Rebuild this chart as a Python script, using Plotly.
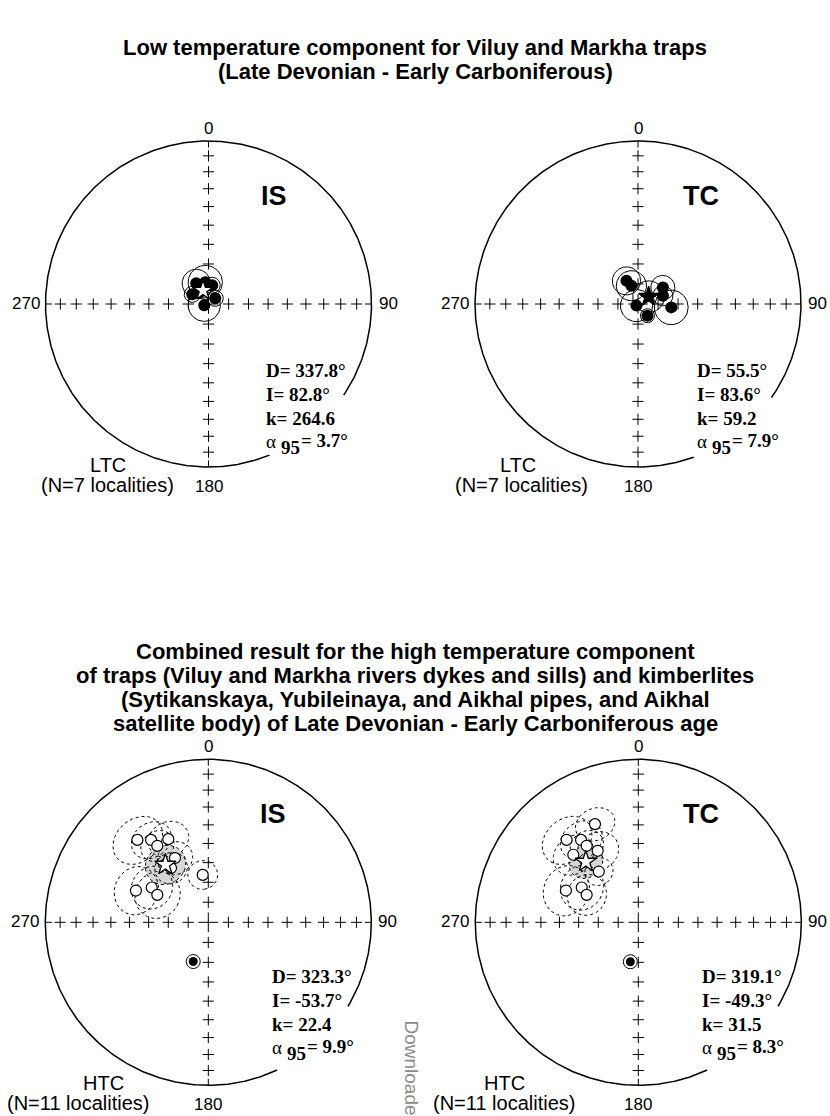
import numpy as np
import plotly.graph_objects as go

W, H = 830, 1116

# ---- Site-mean directions: declination, inclination, alpha95 (degrees) ----
ltc_is_dec = [329.3, 351.4, 11.2, 300.8, 49.6, 253.0, 321.5]
ltc_is_inc = [78.0, 79.1, 80.5, 80.6, 85.6, 87.8, 82.5]
ltc_is_a95 = [7.0, 8.5, 4.0, 4.0, 4.0, 8.0, 3.0]

ltc_tc_dec = [333.5, 340.2, 56.4, 71.6, 223.0, 95.8, 141.2]
ltc_tc_inc = [77.1, 80.3, 75.1, 76.9, 88.9, 73.3, 82.5]
ltc_tc_a95 = [7.0, 7.5, 6.0, 5.0, 8.0, 8.5, 3.5]

htc_is_dec = [319.3, 325.2, 334.3, 326.3, 332.6, 325.5, 353.3, 293.7, 301.6, 298.3, 201.0]
htc_is_inc = [-33.7, -38.4, -42.8, -43.0, -53.4, -56.8, -66.1, -49.9, -56.5, -60.9, 69.0]
htc_is_a95 = [12.0, 9.5, 9.5, 8.0, 8.5, 8.0, 7.3, 11.5, 10.5, 11.5, 3.0]

htc_tc_dec = [336.2, 319.0, 325.2, 326.0, 330.4, 316.1, 322.1, 293.7, 301.6, 298.0, 191.4]
htc_tc_inc = [-34.5, -33.4, -38.4, -42.8, -48.2, -42.0, -57.6, -49.9, -56.5, -60.6, 69.9]
htc_tc_a95 = [9.0, 12.0, 10.0, 8.0, 10.0, 10.0, 7.0, 12.0, 11.0, 10.0, 3.0]

# ---- Overall means printed on each net ----
net_frame = ["IS", "TC", "IS", "TC"]
net_comp = ["LTC", "LTC", "HTC", "HTC"]
net_n = ["(N=7 localities)", "(N=7 localities)", "(N=11 localities)", "(N=11 localities)"]
mean_dec = [337.8, 55.5, 323.3, 319.1]
mean_inc = [82.8, 83.6, -53.7, -49.3]
mean_k = [264.6, 59.2, 22.4, 31.5]
mean_a95 = [3.7, 7.9, 9.9, 8.3]

sites = [
    (ltc_is_dec, ltc_is_inc, ltc_is_a95),
    (ltc_tc_dec, ltc_tc_inc, ltc_tc_a95),
    (htc_is_dec, htc_is_inc, htc_is_a95),
    (htc_tc_dec, htc_tc_inc, htc_tc_a95),
]

titles_top = ["Low temperature component for Viluy and Markha traps",
              "(Late Devonian - Early Carboniferous)"]
titles_bottom = ["Combined result for the high temperature component",
                 "of traps (Viluy and Markha rivers dykes and sills) and kimberlites",
                 "(Sytikanskaya, Yubileinaya, and Aikhal pipes, and Aikhal",
                 "satellite body) of Late Devonian - Early Carboniferous age"]

# ---- Net placement (pixels) ----
R = 163.0
centers = [(208.5, 304.0), (638.0, 304.0), (208.3, 922.3), (638.3, 922.3)]
cells = [(0, 415, 0, 558), (415, 830, 0, 558), (0, 415, 558, 1116), (415, 830, 558, 1116)]
gaps = [(124.0, 158.0), (125.0, 160.0), (121.0, 155.0), (121.0, 155.0)]
stat_left = [264.0, 695.0, 270.0, 700.0]
stat_top = [370.0, 370.0, 976.0, 976.0]
frame_dx = [50.0, 43.0, 50.0, 43.0]
comp_dx = [-101.0, -120.0, -105.0, -134.0]
count_dx = [-101.0, -117.0, -130.0, -134.0]

SANS = "Liberation Sans"
SERIF = "Liberation Serif"


def eqarea(dec, inc):
    d = np.radians(np.asarray(dec, float))
    i = np.radians(np.abs(np.asarray(inc, float)))
    r = np.sqrt(2.0) * np.sin((np.pi / 2 - i) / 2)
    return r * np.sin(d), r * np.cos(d)


def small_circle(dec, inc, a95, n=120):
    d, i = np.radians(dec), np.radians(abs(inc))
    v = np.array([np.cos(i) * np.cos(d), np.cos(i) * np.sin(d), np.sin(i)])
    u1 = np.array([-np.sin(i) * np.cos(d), -np.sin(i) * np.sin(d), np.cos(i)])
    u2 = np.array([-np.sin(d), np.cos(d), 0.0])
    t = np.linspace(0, 2 * np.pi, n)
    a = np.radians(a95)
    p = (np.cos(a) * v[:, None] + np.sin(a) * (np.cos(t)[None, :] * u1[:, None]
                                                + np.sin(t)[None, :] * u2[:, None]))
    dd = np.degrees(np.arctan2(p[1], p[0]))
    ii = np.degrees(np.arcsin(np.clip(p[2], -1, 1)))
    return eqarea(dd, ii)


fig = go.Figure()
annotations = []
layout_axes = {}

for k in range(4):
    cx, cy = centers[k]
    x0, x1, y0, y1 = cells[k]
    sfx = "" if k == 0 else str(k + 1)
    xa, ya = "x" + sfx, "y" + sfx
    layout_axes["xaxis" + sfx] = dict(domain=[x0 / W, x1 / W], range=[(x0 - cx) / R, (x1 - cx) / R],
                                      visible=False, fixedrange=True, anchor=ya)
    layout_axes["yaxis" + sfx] = dict(domain=[1 - y1 / H, 1 - y0 / H], range=[(cy - y1) / R, (cy - y0) / R],
                                      visible=False, fixedrange=True, anchor=xa)
    ax = dict(xaxis=xa, yaxis=ya, hoverinfo="skip", showlegend=False)

    def U(px, py):
        return (px - cx) / R, (cy - py) / R

    # primitive circle, interrupted behind the statistics block
    g0, g1 = gaps[k]
    b = np.radians(np.linspace(g1, g0 + 360.0, 500))
    fig.add_trace(go.Scatter(x=np.sin(b), y=np.cos(b), mode="lines",
                             line=dict(color="black", width=1.5), **ax))

    # graduation crosses every 10 degrees of inclination
    grid_inc = np.arange(80, 0, -10)
    gr = np.sqrt(2.0) * np.sin(np.radians((90 - grid_inc) / 2))
    cxs = np.concatenate([np.zeros_like(gr), gr, np.zeros_like(gr), -gr])
    cys = np.concatenate([gr, np.zeros_like(gr), -gr, np.zeros_like(gr)])
    fig.add_trace(go.Scatter(x=cxs, y=cys, mode="markers",
                             marker=dict(symbol="cross-thin", size=8,
                                         line=dict(color="black", width=1)), **ax))
    fig.add_trace(go.Scatter(x=[0], y=[0], mode="markers",
                             marker=dict(symbol="cross-thin", size=14,
                                         line=dict(color="black", width=1)), **ax))
    tk = 0.04
    fig.add_trace(go.Scatter(x=[0, 0, None, 1, 1 - tk, None, 0, 0, None, -1, -1 + tk],
                             y=[1, 1 - tk, None, 0, 0, None, -1, -1 + tk, None, 0, 0],
                             mode="lines", line=dict(color="black", width=1), **ax))

    dec, inc, a95 = sites[k]
    upper = k >= 2

    if not upper:
        # low-temperature nets: solid confidence circles, solid dots
        for d, i, a in zip(dec, inc, a95):
            sx, sy = small_circle(d, i, a)
            fig.add_trace(go.Scatter(x=sx, y=sy, mode="lines",
                                     line=dict(color="black", width=1), **ax))
        mx, my = small_circle(mean_dec[k], mean_inc[k], mean_a95[k])
        fig.add_trace(go.Scatter(x=mx, y=my, mode="lines",
                                 line=dict(color="black", width=1), **ax))
        px_, py_ = eqarea(dec, inc)
        fig.add_trace(go.Scatter(x=px_, y=py_, mode="markers",
                                 marker=dict(symbol="circle", size=12, color="black",
                                             line=dict(color="black", width=0)), **ax))
        sxm, sym = eqarea([mean_dec[k]], [mean_inc[k]])
        star_fill = "white" if k == 0 else "black"
        fig.add_trace(go.Scatter(x=sxm, y=sym, mode="markers",
                                 marker=dict(symbol="star", size=15, color=star_fill,
                                             line=dict(color="black", width=1.3)), **ax))
    else:
        # high-temperature nets: grey mean cone, dotted site cones
        mx, my = small_circle(mean_dec[k], mean_inc[k], mean_a95[k])
        fig.add_trace(go.Scatter(x=mx, y=my, mode="lines", fill="toself",
                                 fillcolor="#d6d6d6",
                                 line=dict(color="black", width=1, dash="dot"), **ax))
        for d, i, a in zip(dec, inc, a95):
            sx, sy = small_circle(d, i, a)
            fig.add_trace(go.Scatter(x=sx, y=sy, mode="lines",
                                     line=dict(color="black", width=1, dash="dot"), **ax))
        neg = [j for j in range(len(inc)) if inc[j] < 0]
        pos = [j for j in range(len(inc)) if inc[j] >= 0]
        px_, py_ = eqarea([dec[j] for j in neg], [inc[j] for j in neg])
        fig.add_trace(go.Scatter(x=px_, y=py_, mode="markers",
                                 marker=dict(symbol="circle", size=11, color="white",
                                             line=dict(color="black", width=1.2)), **ax))
        qx, qy = eqarea([dec[j] for j in pos], [inc[j] for j in pos])
        fig.add_trace(go.Scatter(x=qx, y=qy, mode="markers",
                                 marker=dict(symbol="circle", size=14, color="white",
                                             line=dict(color="black", width=1)), **ax))
        fig.add_trace(go.Scatter(x=qx, y=qy, mode="markers",
                                 marker=dict(symbol="circle", size=9, color="black",
                                             line=dict(width=0)), **ax))
        sxm, sym = eqarea([mean_dec[k]], [mean_inc[k]])
        fig.add_trace(go.Scatter(x=sxm, y=sym, mode="markers",
                                 marker=dict(symbol="star", size=16, color="white",
                                             line=dict(color="black", width=1.3)), **ax))

    def note(text, px, py, size, family=SANS, xanchor="center", color="black"):
        x, y = U(px, py)
        annotations.append(dict(text=text, x=x, y=y, xref=xa, yref=ya, showarrow=False,
                                xanchor=xanchor, yanchor="middle",
                                font=dict(family=family, size=size, color=color)))

    # compass labels
    note("0", cx, cy - R - 13, 17)
    note("180", cx, cy + R + 19, 17)
    note("270", cx - R - 4, cy - 1, 17, xanchor="right")
    note("90", cx + R + 5, cy - 1, 17, xanchor="left")

    # coordinate frame label
    note("<b>%s</b>" % net_frame[k], cx + frame_dx[k], cy - 108, 27, xanchor="left")

    # component and locality count
    note(net_comp[k], cx + comp_dx[k], cy + 161, 20)
    note(net_n[k], cx + count_dx[k], cy + 181, 20)

    # statistics block
    sl, st = stat_left[k], stat_top[k]
    step = 24
    note("<b>D= %.1f°</b>" % mean_dec[k], sl, st, 19, SERIF, "left")
    note("<b>I= %.1f°</b>" % mean_inc[k], sl, st + step, 19, SERIF, "left")
    note("<b>k= %.1f</b>" % mean_k[k], sl, st + 2 * step, 19, SERIF, "left")
    note("α", sl, st + 3 * step - 1, 19, SERIF, "left")
    note("<b>95</b>", sl + 15, st + 3 * step + 5, 19, SERIF, "left")
    note("<b>= %.1f°</b>" % mean_a95[k], sl + 35, st + 3 * step - 2, 19, SERIF, "left")


def paper_note(text, px, py, size, bold=True, angle=0, color="black", yanchor="middle"):
    annotations.append(dict(text=("<b>%s</b>" % text) if bold else text,
                            x=px / W, y=1 - py / H, xref="paper", yref="paper",
                            showarrow=False, xanchor="center", yanchor=yanchor,
                            textangle=angle,
                            font=dict(family=SANS, size=size, color=color)))


for j, line in enumerate(titles_top):
    paper_note(line, 415, 47 + 24 * j, 22)
for j, line in enumerate(titles_bottom):
    paper_note(line, 415, 651 + 24 * j, 22)

annotations.append(dict(text="Downloaded from", x=411 / W, y=1 - 1018 / H,
                        xref="paper", yref="paper", showarrow=False,
                        xanchor="center", yanchor="top", textangle=90,
                        font=dict(family=SANS, size=19, color="#8a8a8a")))

fig.update_layout(width=W, height=H, margin=dict(l=0, r=0, t=0, b=0),
                  paper_bgcolor="white", plot_bgcolor="white",
                  showlegend=False, annotations=annotations, **layout_axes)

fig.write_html("out.html")
